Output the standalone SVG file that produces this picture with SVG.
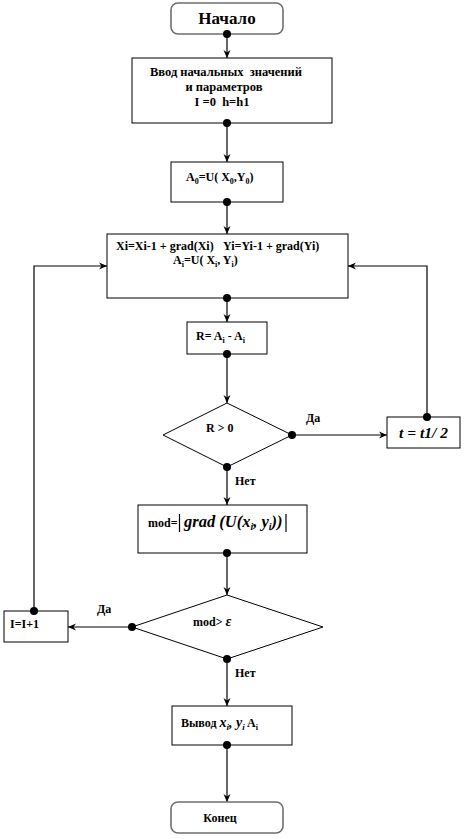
<svg xmlns="http://www.w3.org/2000/svg" width="466" height="839" viewBox="0 0 466 839">
<style>
.box{fill:#fff;stroke:#000;stroke-width:1}
.term{fill:#fff;stroke:#6e6e6e;stroke-width:1.6}
.ln{fill:none;stroke:#000;stroke-width:1.2}
.t{font-family:"Liberation Serif","Times New Roman",serif;font-weight:bold;font-size:12px;fill:#000}
.it{font-style:italic}
.c{text-anchor:middle}
.dot{fill:#000}
</style>
<defs>
<marker id="ah" markerWidth="9" markerHeight="8" refX="8" refY="4" orient="auto" markerUnits="userSpaceOnUse">
<path d="M0,0.5 L8,4 L0,7.5 L2.5,4 z" fill="#000"/>
</marker>
</defs>
<rect width="466" height="839" fill="#fff"/>

<g id="connectors">
<line class="ln" x1="227" y1="34" x2="227" y2="58" marker-end="url(#ah)"/>
<line class="ln" x1="227" y1="123" x2="227" y2="162" marker-end="url(#ah)"/>
<line class="ln" x1="227" y1="202" x2="227" y2="234" marker-end="url(#ah)"/>
<line class="ln" x1="227" y1="298" x2="227" y2="322" marker-end="url(#ah)"/>
<line class="ln" x1="227" y1="354" x2="227" y2="403" marker-end="url(#ah)"/>
<line class="ln" x1="292" y1="435" x2="387" y2="435" marker-end="url(#ah)"/>
<polyline class="ln" points="427,417 427,266 348,266" marker-end="url(#ah)"/>
<line class="ln" x1="227" y1="467" x2="227" y2="505" marker-end="url(#ah)"/>
<line class="ln" x1="227" y1="553" x2="227" y2="595" marker-end="url(#ah)"/>
<line class="ln" x1="132" y1="627" x2="68" y2="627" marker-end="url(#ah)"/>
<polyline class="ln" points="34,611 34,266 107,266" marker-end="url(#ah)"/>
<line class="ln" x1="227" y1="659" x2="227" y2="706" marker-end="url(#ah)"/>
<line class="ln" x1="227" y1="745" x2="227" y2="802" marker-end="url(#ah)"/>
<text class="t" x="306" y="422">Да</text>
<text class="t" x="235" y="485">Нет</text>
<text class="t" x="97" y="613">Да</text>
<text class="t" x="235" y="677">Нет</text>
</g>

<g id="start">
<rect class="term" x="171" y="3" width="112" height="31" rx="7"/>
<text class="t c" x="227" y="24" style="font-size:17px">Начало</text>
<circle class="dot" cx="227" cy="34" r="4"/>
</g>

<g id="input">
<rect class="box" x="132" y="58" width="200" height="65"/>
<text class="t c" x="226" y="76" xml:space="preserve" style="font-size:12.5px">Ввод начальных  значений</text>
<text class="t c" x="224" y="91" style="font-size:12.5px">и параметров</text>
<text class="t c" x="222" y="106" xml:space="preserve" style="font-size:12.5px">I =0  h=h1</text>
<circle class="dot" cx="227" cy="123" r="4"/>
</g>

<g id="a0">
<rect class="box" x="171" y="162" width="112" height="40"/>
<text class="t" x="186" y="181">A<tspan dy="3" font-size="8">0</tspan><tspan dy="-3">=U( X</tspan><tspan dy="3" font-size="8">0</tspan><tspan dy="-3">,Y</tspan><tspan dy="3" font-size="8">0</tspan><tspan dy="-3">)</tspan></text>
<circle class="dot" cx="227" cy="202" r="4"/>
</g>

<g id="iter">
<rect class="box" x="107" y="234" width="241" height="64"/>
<text class="t" x="116" y="250">Xi=Xi-1 + grad(Xi)</text>
<text class="t" x="223" y="250">Yi=Yi-1 + grad(Yi)</text>
<text class="t" x="173" y="264">A<tspan dy="3" font-size="8">i</tspan><tspan dy="-3">=U( X</tspan><tspan dy="3" font-size="8">i</tspan><tspan dy="-3">, Y</tspan><tspan dy="3" font-size="8">i</tspan><tspan dy="-3">)</tspan></text>
<circle class="dot" cx="227" cy="298" r="4"/>
</g>

<g id="rdiff">
<rect class="box" x="187" y="322" width="80" height="32"/>
<text class="t" x="196" y="340">R= A<tspan dy="3" font-size="8">i</tspan><tspan dy="-3"> - A</tspan><tspan dy="3" font-size="8">i</tspan></text>
<circle class="dot" cx="227" cy="354" r="4"/>
</g>

<g id="cond1">
<polygon class="box" points="227,403 292,435 227,467 163,435"/>
<text class="t" x="206" y="432">R &gt; 0</text>
<circle class="dot" cx="292" cy="435" r="4"/>
<circle class="dot" cx="227" cy="467" r="4"/>
</g>

<g id="halve">
<rect class="box" x="387" y="417" width="73" height="31"/>
<text class="t it" x="399" y="438" style="font-size:15.5px">t = t1/ 2</text>
<circle class="dot" cx="427" cy="417" r="4"/>
</g>

<g id="mod">
<rect class="box" x="138" y="505" width="169" height="48"/>
<text class="t" x="148" y="527">mod=</text>
<text class="t it" x="184" y="527" style="font-size:16.5px">grad (U(x<tspan dy="3" font-size="10">i</tspan><tspan dy="-3">, y</tspan><tspan dy="3" font-size="10">i</tspan><tspan dy="-3">))</tspan></text>
<line class="ln" x1="179.5" y1="514" x2="179.5" y2="532"/>
<line class="ln" x1="286" y1="514" x2="286" y2="532"/>
<circle class="dot" cx="227" cy="553" r="4"/>
</g>

<g id="cond2">
<polygon class="box" points="227,595 323,627 227,659 132,627"/>
<text class="t" x="193" y="626">mod&gt; <tspan class="it" style="font-size:14px">ε</tspan></text>
<circle class="dot" cx="132" cy="627" r="4"/>
<circle class="dot" cx="227" cy="659" r="4"/>
</g>

<g id="inc">
<rect class="box" x="4" y="611" width="64" height="31"/>
<text class="t" x="10" y="628">I=I+1</text>
<circle class="dot" cx="34" cy="611" r="4"/>
</g>

<g id="output">
<rect class="box" x="172" y="706" width="120" height="39"/>
<text class="t" x="181" y="727">Вывод <tspan class="it" style="font-size:14px">x</tspan><tspan class="it" dy="3" font-size="9">i</tspan><tspan class="it" dy="-3" style="font-size:14px">, y</tspan><tspan class="it" dy="3" font-size="9">i</tspan><tspan dy="-3"> A</tspan><tspan dy="3" font-size="8">i</tspan></text>
<circle class="dot" cx="227" cy="745" r="4"/>
</g>

<g id="end">
<rect class="term" x="171" y="802" width="112" height="31" rx="7"/>
<text class="t c" x="220" y="822">Конец</text>
</g>
</svg>
